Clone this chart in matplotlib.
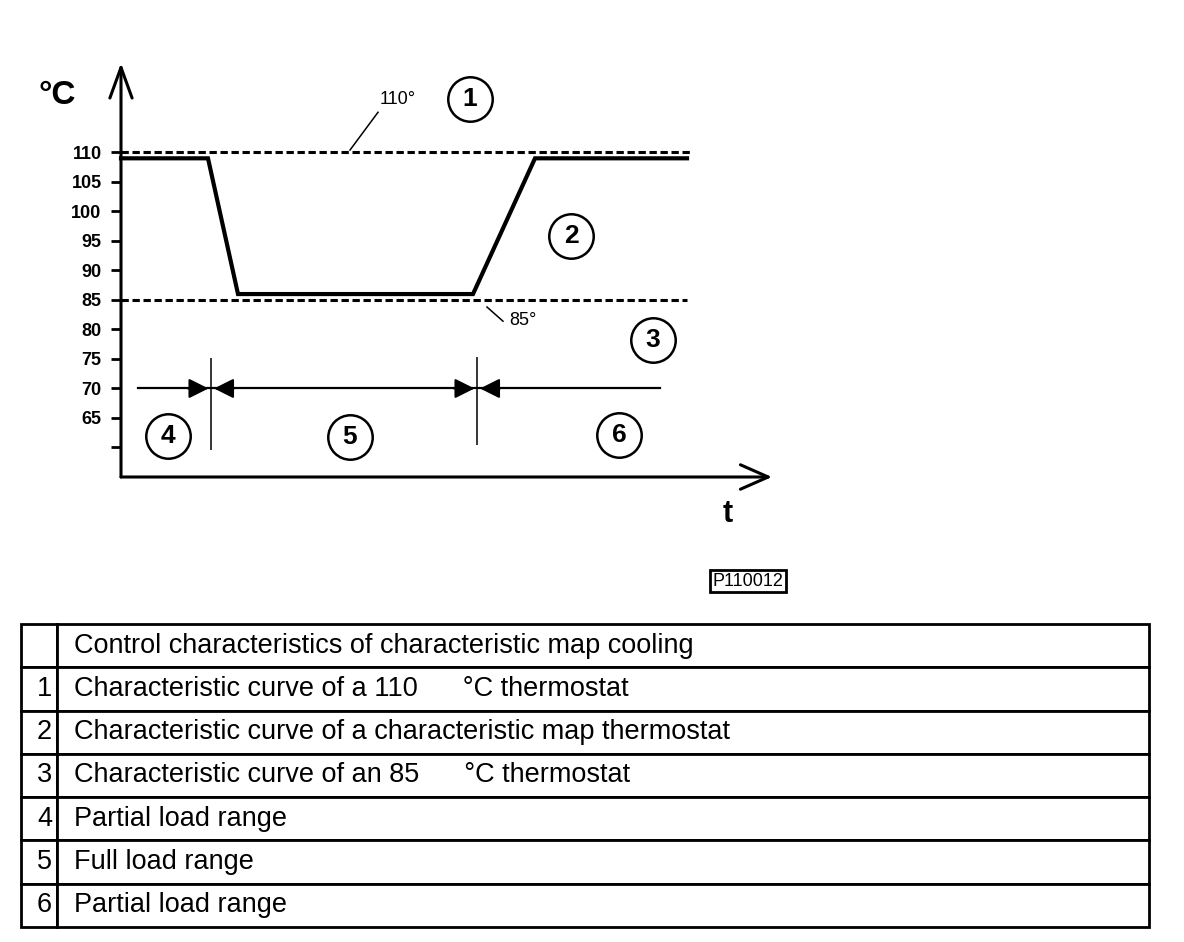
import numpy as np
import matplotlib
matplotlib.use("Agg")
import matplotlib.pyplot as plt

plt.rcParams['font.family'] = ['Liberation Sans', 'DejaVu Sans']

# map thermostat curve (time in arbitrary units, temperature in degC)
curve_t = [0, 8.7, 11.7, 35.2, 41.4, 56.6]
curve_temp = [109, 109, 86, 86, 109, 109]

# fixed thermostats
thermo_110_t = [0, 57.1]
thermo_110 = [110, 110]
thermo_85_t = [0, 56.6]
thermo_85 = [85, 85]

# load range markers
range_line_t = [1.7, 53.9]
range_line_temp = [70, 70]
range_bounds = [9.0, 35.6]

yticks = [110, 105, 100, 95, 90, 85, 80, 75, 70, 65, 60]
ytick_labels = ['110', '105', '100', '95', '90', '85', '80', '75', '70', '65', '']

circle_labels = ['1', '2', '3', '4', '5', '6']
circle_t = [34.9, 45.0, 53.2, 4.7, 22.9, 49.8]
circle_temp = [119.0, 95.8, 78.2, 62.0, 61.8, 62.2]

table_nums = ['', '1', '2', '3', '4', '5', '6']
table_texts = ['Control characteristics of characteristic map cooling',
               'Characteristic curve of a 110      \u00b0C thermostat',
               'Characteristic curve of a characteristic map thermostat',
               'Characteristic curve of an 85      \u00b0C thermostat',
               'Partial load range',
               'Full load range',
               'Partial load range']

fig = plt.figure(figsize=(11.84, 9.42), dpi=100)
W, H = 1184, 942

ax = fig.add_axes([121 / W, (H - 477) / H, 659 / W, 417 / H])
ax.set_xlim(0, 65.9)
ax.set_ylim(55, 125.66)
for s in ax.spines.values():
    s.set_visible(False)

# axes with arrows
ax.annotate('', xy=(0, 125.15), xytext=(0, 55), annotation_clip=False,
            arrowprops=dict(arrowstyle='->,head_length=0.55,head_width=0.2',
                            mutation_scale=40, lw=2.2, color='black',
                            shrinkA=0, shrinkB=0))
ax.annotate('', xy=(65.1, 55), xytext=(0, 55), annotation_clip=False,
            arrowprops=dict(arrowstyle='->,head_length=0.5,head_width=0.22',
                            mutation_scale=40, lw=2.2, color='black',
                            shrinkA=0, shrinkB=0))

ax.set_xticks([])
ax.set_yticks(yticks)
ax.set_yticklabels(ytick_labels, fontsize=13, fontweight='bold')
ax.tick_params(axis='y', direction='out', length=7, width=2, pad=7)

# curves
ax.plot(thermo_110_t, thermo_110, color='black', lw=2.2, dashes=(2.4, 1.2), clip_on=False)
ax.plot(thermo_85_t, thermo_85, color='black', lw=2.2, dashes=(2.4, 1.2), clip_on=False)
ax.plot(curve_t, curve_temp, color='black', lw=3, solid_joinstyle='miter', clip_on=False)

# load ranges
ax.plot(range_line_t, range_line_temp, color='black', lw=1.6)
ax.vlines(range_bounds[0], 59.6, 75.2, color='black', lw=1.1)
ax.vlines(range_bounds[1], 60.4, 75.4, color='black', lw=1.1)
for b in range_bounds:
    ax.annotate('', xy=(b - 0.25, 70), xytext=(b - 2.3, 70),
                arrowprops=dict(arrowstyle='-|>,head_length=0.6,head_width=0.3',
                                mutation_scale=20, color='black', lw=1.5,
                                shrinkA=0, shrinkB=0))
    ax.annotate('', xy=(b + 0.3, 70), xytext=(b + 2.3, 70),
                arrowprops=dict(arrowstyle='-|>,head_length=0.6,head_width=0.3',
                                mutation_scale=20, color='black', lw=1.5,
                                shrinkA=0, shrinkB=0))

# labels with leader lines
ax.plot([22.9, 25.7], [110.4, 116.8], color='black', lw=1.1)
ax.text(27.7, 119.05, '110\u00b0', fontsize=13, ha='center', va='center')
ax.plot([36.6, 38.2], [83.8, 81.4], color='black', lw=1.1)
ax.text(40.2, 81.6, '85\u00b0', fontsize=13, ha='center', va='center')

# circled numbers
ax.plot(circle_t, circle_temp, 'o', ms=32, mfc='white', mec='black', mew=1.8,
        clip_on=False)
for lab, x, y in zip(circle_labels, circle_t, circle_temp):
    ax.text(x, y, lab, fontsize=19, fontweight='bold', ha='center', va='center')

fig.text(57 / W, 1 - 95 / H, '\u00b0C', fontsize=24, fontweight='bold',
         ha='center', va='center')
fig.text(728 / W, 1 - 514 / H, 't', fontsize=22, fontweight='bold',
         ha='center', va='center')
fig.text(748 / W, 1 - 581 / H, 'P110012', fontsize=13, ha='center', va='center',
         bbox=dict(boxstyle='square,pad=0.15', fc='white', ec='black', lw=2))

# legend table
tax = fig.add_axes([21 / W, (H - 927) / H, 1128 / W, 303 / H])
tax.axis('off')
cells = [[n, t] for n, t in zip(table_nums, table_texts)]
tbl = tax.table(cellText=cells, colWidths=[36 / 1128, 1092 / 1128],
                bbox=[0, 0, 1, 1], cellLoc='left')
tbl.auto_set_font_size(False)
for (r, c), cell in tbl.get_celld().items():
    cell.set_linewidth(2)
    cell.get_text().set_fontsize(19.5)
    if c == 0:
        cell.get_text().set_ha('right')
        cell._loc = 'right'
        cell.PAD = 5 / 36
    else:
        cell.PAD = 17 / 1092

fig.savefig('out.png', dpi=100)
